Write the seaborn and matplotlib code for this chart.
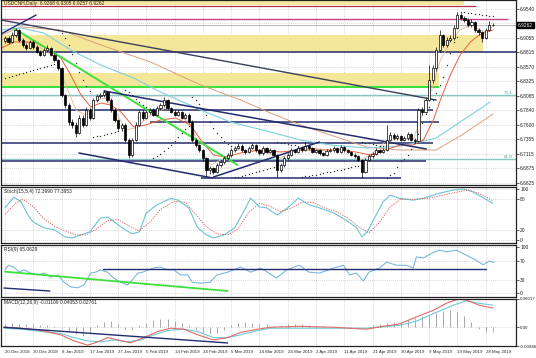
import matplotlib
matplotlib.use("Agg")
import matplotlib.pyplot as plt
import matplotlib.transforms as mtransforms
import numpy as np
import seaborn as sns

sns.set_style("white")
plt.rcParams['font.family'] = ['Liberation Sans', 'DejaVu Sans']

# date labels, one every 8 daily bars (broker shows Sunday bars)
date_labels = ['20 Dec 2018', '30 Dec 2018', '8 Jan 2019', '17 Jan 2019', '27 Jan 2019',
               '5 Feb 2019', '14 Feb 2019', '24 Feb 2019', '5 Mar 2019', '14 Mar 2019',
               '24 Mar 2019', '2 Apr 2019', '11 Apr 2019', '21 Apr 2019', '30 Apr 2019',
               '9 May 2019', '19 May 2019', '28 May 2019']

# USDCNH daily candles (open of each bar = previous close)
first_open = 6.9000
closes = [6.9049, 6.8982, 6.9099, 6.9183, 6.9016, 6.8932, 6.8882, 6.8982, 6.8899, 6.8815,
          6.8765, 6.8848, 6.8882, 6.8765, 6.8681, 6.8547, 6.8096, 6.7929, 6.7645, 6.7595,
          6.7461, 6.7711, 6.7595, 6.7845, 6.7711, 6.8012, 6.8079, 6.8096, 6.8146, 6.8012,
          6.7845, 6.7678, 6.7544, 6.7595, 6.7344, 6.7093, 6.7344, 6.7595, 6.7812, 6.7711,
          6.7812, 6.7845, 6.7762, 6.7879, 6.7929, 6.8012, 6.7879, 6.7812, 6.7762, 6.7812,
          6.7711, 6.7762, 6.7645, 6.7344, 6.7260, 6.7176, 6.7043, 6.6842, 6.6875, 6.6809,
          6.6926, 6.6976, 6.7043, 6.7093, 6.7176, 6.7210, 6.7243, 6.7176, 6.7143, 6.7210,
          6.7260, 6.7176, 6.7126, 6.7210, 6.7143, 6.7176, 6.7093, 6.6842, 6.6926, 6.7043,
          6.7093, 6.7176, 6.7143, 6.7210, 6.7176, 6.7243, 6.7210, 6.7143, 6.7176, 6.7126,
          6.7093, 6.7160, 6.7176, 6.7210, 6.7143, 6.7227, 6.7176, 6.7143, 6.7093, 6.7076,
          6.7009, 6.6809, 6.7009, 6.7076, 6.7110, 6.7176, 6.7143, 6.7176, 6.7344, 6.7427,
          6.7377, 6.7411, 6.7344, 6.7377, 6.7444, 6.7344, 6.7327, 6.7845, 6.7812, 6.8012,
          6.8347, 6.8547, 6.8848, 6.9099, 6.8932, 6.9016, 6.9049, 6.9216, 6.9434, 6.9383,
          6.9350, 6.9266, 6.9317, 6.9183, 6.9149, 6.9049, 6.9183, 6.9268, 6.9262]
highs = [6.9090, 6.9080, 6.9150, 6.9216, 6.9200, 6.9050, 6.8960, 6.9010, 6.9010, 6.8930,
         6.8850, 6.8880, 6.8930, 6.8900, 6.8790, 6.8700, 6.8560, 6.8120, 6.7960, 6.7700,
         6.7640, 6.7760, 6.7760, 6.7900, 6.7880, 6.8050, 6.8110, 6.8130, 6.8180, 6.8170,
         6.8040, 6.7870, 6.7700, 6.7630, 6.7620, 6.7370, 6.7380, 6.7640, 6.7850, 6.7840,
         6.7850, 6.7880, 6.7870, 6.7910, 6.7960, 6.8063, 6.8030, 6.7900, 6.7840, 6.7840,
         6.7830, 6.7790, 6.7790, 6.7670, 6.7370, 6.7280, 6.7200, 6.7060, 6.6910, 6.6900,
         6.6960, 6.7010, 6.7080, 6.7130, 6.7210, 6.7250, 6.7290, 6.7270, 6.7200, 6.7240,
         6.7300, 6.7280, 6.7200, 6.7240, 6.7230, 6.7210, 6.7200, 6.7110, 6.6960, 6.7070,
         6.7120, 6.7210, 6.7200, 6.7240, 6.7240, 6.7310, 6.7270, 6.7230, 6.7200, 6.7200,
         6.7150, 6.7190, 6.7210, 6.7240, 6.7230, 6.7260, 6.7250, 6.7200, 6.7160, 6.7120,
         6.7100, 6.7030, 6.7040, 6.7110, 6.7140, 6.7210, 6.7200, 6.7210, 6.7595, 6.7470,
         6.7460, 6.7450, 6.7430, 6.7410, 6.7477, 6.7460, 6.7370, 6.7880, 6.7900, 6.8063,
         6.8600, 6.8600, 6.8900, 6.9183, 6.9120, 6.9060, 6.9100, 6.9260, 6.9484, 6.9470,
         6.9420, 6.9380, 6.9360, 6.9340, 6.9220, 6.9170, 6.9220, 6.9330, 6.9305]
lows = [6.8960, 6.8950, 6.8960, 6.9070, 6.8990, 6.8900, 6.8840, 6.8860, 6.8870, 6.8790,
        6.8740, 6.8740, 6.8820, 6.8740, 6.8650, 6.8520, 6.8060, 6.7880, 6.7600, 6.7540,
        6.7394, 6.7440, 6.7560, 6.7570, 6.7680, 6.7690, 6.7980, 6.8040, 6.8060, 6.7980,
        6.7810, 6.7650, 6.7510, 6.7500, 6.7310, 6.7043, 6.7060, 6.7320, 6.7570, 6.7680,
        6.7690, 6.7780, 6.7740, 6.7740, 6.7850, 6.7900, 6.7850, 6.7790, 6.7740, 6.7740,
        6.7690, 6.7690, 6.7620, 6.7310, 6.7230, 6.7140, 6.7000, 6.6742, 6.6780, 6.6770,
        6.6790, 6.6900, 6.6950, 6.7010, 6.7060, 6.7150, 6.7190, 6.7150, 6.7110, 6.7120,
        6.7190, 6.7150, 6.7100, 6.7100, 6.7120, 6.7120, 6.7070, 6.6725, 6.6800, 6.6900,
        6.7010, 6.7070, 6.7120, 6.7120, 6.7150, 6.7160, 6.7180, 6.7120, 6.7120, 6.7100,
        6.7070, 6.7070, 6.7140, 6.7150, 6.7120, 6.7120, 6.7150, 6.7120, 6.7070, 6.7050,
        6.6990, 6.6708, 6.6790, 6.6990, 6.7050, 6.7090, 6.7120, 6.7120, 6.7160, 6.7320,
        6.7350, 6.7350, 6.7320, 6.7320, 6.7350, 6.7320, 6.7290, 6.7310, 6.7760, 6.7790,
        6.7990, 6.8300, 6.8500, 6.8820, 6.8900, 6.8900, 6.8990, 6.9020, 6.9200, 6.9350,
        6.9310, 6.9240, 6.9240, 6.9150, 6.9100, 6.8982, 6.9030, 6.9160, 6.9257]

# moving averages, read at points along each line (bar, price)
ma_red_bar = [-1, 2.5, 8.2, 13, 15.8, 18.6, 21.5, 24.3, 27.1, 30, 32.8, 36.4, 39.8, 44, 48.3,
              52.5, 55.4, 59, 62.4, 66.7, 72.3, 78, 83.6, 89.3, 94.9, 99.2, 103.4, 107.6, 111.9,
              115.5, 118.4, 121.2, 123.2, 126, 128.8, 131.7, 134.2, 136.2, 138.1]
ma_red_val = [6.8881, 6.8982, 6.8982, 6.8848, 6.8714, 6.8430, 6.8096, 6.7895, 6.7962, 6.7928,
              6.7811, 6.7561, 6.7594, 6.7678, 6.7711, 6.7594, 6.7343, 6.7092, 6.7059, 6.7126,
              6.7176, 6.7143, 6.7176, 6.7176, 6.7176, 6.7143, 6.7092, 6.7176, 6.7260, 6.7260,
              6.7343, 6.7678, 6.8012, 6.8430, 6.8764, 6.8982, 6.9099, 6.9149, 6.9182]
ma_fast_bar = [-1, 2.5, 5.9, 10.2, 14.4, 17.2, 20.1, 22.9, 25.7, 28.5, 31.4, 34.2, 37, 41.2,
               45.5, 49.7, 52.5, 55.4, 58.2, 61, 65.3, 69.5, 73.7, 78, 82.2, 86.4, 92.1, 96.3,
               100.6, 103.4, 107.6, 111.9, 115.5, 118.4, 121.2, 123.2, 126, 128.8, 131.7,
               134.5, 136.4, 138.1]
ma_fast_val = [6.9015, 6.9099, 6.8982, 6.8881, 6.8714, 6.8263, 6.7845, 6.7761, 6.8012, 6.8045,
               6.7811, 6.7510, 6.7544, 6.7761, 6.7878, 6.7761, 6.7594, 6.7176, 6.6925, 6.7009,
               6.7176, 6.7176, 6.7143, 6.7042, 6.7176, 6.7209, 6.7176, 6.7209, 6.7009, 6.7092,
               6.7310, 6.7377, 6.7343, 6.7811, 6.8263, 6.8681, 6.8982, 6.9182, 6.9266, 6.9182,
               6.9149, 6.9249]
ma_blue_bar = [-1, 4.5, 11, 18.6, 27.1, 36.4, 44, 55.4, 63.8, 75.1, 83.6, 92.1, 102.3, 111.9,
               117.5, 122, 128.8, 137.3]
ma_blue_val = [6.9182, 6.9216, 6.9132, 6.8848, 6.8597, 6.8380, 6.8146, 6.7845, 6.7644, 6.7477,
               6.7343, 6.7260, 6.7209, 6.7243, 6.7310, 6.7377, 6.7644, 6.7979]
ma_tan_bar = [-1, 4.5, 15.8, 27.1, 41.2, 55.4, 66.7, 75.1, 83.6, 92.1, 102.3, 111.9, 122,
              128.8, 138.1]
ma_tan_val = [6.9099, 6.9233, 6.9182, 6.8932, 6.8647, 6.8263, 6.8012, 6.7795, 6.7594, 6.7427,
              6.7226, 6.7176, 6.7176, 6.7410, 6.7778]

# parabolic SAR dots (bar, price)
sar_bar = list(range(0, 139))
sar_val = [6.8380, 6.8397, 6.8413, 6.8430, 6.8447, 6.8463, 6.8480, 6.8497, 6.8514, 6.8530,
           6.8547, 6.8564, 6.8580, 6.8597, 6.8614, 6.9182, 6.9132, 6.9049, 6.8932, 6.8781,
           6.8631, 6.8480, 6.8346, 6.8246, 6.8163, 6.7393, 6.7402, 6.7410, 6.7427, 6.7444,
           6.7460, 6.7477, 6.7494, 6.7510, 6.8179, 6.8146, 6.8096, 6.8029, 6.7979, 6.7928,
           6.7895, 6.7862, 6.7042, 6.7076, 6.7109, 6.7159, 6.7209, 6.7260, 6.7326, 6.7393,
           6.7460, 6.7527, 6.7577, 6.8062, 6.8012, 6.7945, 6.7861, 6.7761, 6.7644, 6.7544,
           6.7460, 6.7393, 6.7326, 6.7276, 6.7250, 6.6725, 6.6733, 6.6741, 6.6758, 6.6775,
           6.6791, 6.6808, 6.6825, 6.6842, 6.6858, 6.6875, 6.6892, 6.7310, 6.7300, 6.7290,
           6.7280, 6.7268, 6.7255, 6.7242, 6.6725, 6.6735, 6.6745, 6.6755, 6.6766, 6.6777,
           6.6788, 6.6800, 6.6812, 6.6824, 6.6836, 6.6849, 6.6862, 6.6875, 6.6888, 6.6901,
           6.6914, 6.7310, 6.7298, 6.7286, 6.7274, 6.7262, 6.7250, 6.7238, 6.6708, 6.6750,
           6.6792, 6.6900, 6.6990, 6.7030, 6.7100, 6.7200, 6.7300, 6.7440, 6.7620, 6.7780,
           6.7895, 6.8010, 6.8129, 6.8260, 6.8397, 6.8600, 6.8800, 6.8980, 6.9065, 6.9484,
           6.9478, 6.9470, 6.9462, 6.9454, 6.9445, 6.9436, 6.9427, 6.9418, 6.9409]

# Stochastic (15,5,4)
stoch_bar = [0, 2.5, 4.5, 6.5, 8, 11, 14, 17, 19, 21.5, 24, 27, 29, 31, 34, 36, 38, 40, 43, 47,
             49, 52, 54.5, 57, 59, 62, 65, 67.5, 69.5, 72, 74, 77, 80, 83, 86, 89, 93, 96.5,
             99.5, 101, 102.5, 105, 107, 109, 111.5, 115.5, 118.5, 123, 127, 130, 132.5, 135, 138]
stoch_main = [63, 84, 75, 49, 35, 24, 20, 6, 4, 10, 16, 43, 45, 35, 20, 12, 16, 53, 69, 82,
              78, 63, 24, 10, 4, 10, 24, 55, 82, 65, 63, 49, 63, 82, 69, 63, 53, 39,
              24, 6, 16, 49, 75, 88, 82, 78, 82, 92, 98, 100, 94, 84, 72]
signal_bar = [0, 3, 5, 8, 11, 14, 17, 20, 23, 26, 29, 32, 35, 38, 41, 44, 48, 51, 54, 57, 60,
              63, 66, 69, 72, 75, 78, 81, 84, 87, 90, 94, 97, 100, 103, 106, 109, 112, 116,
              120, 124, 128, 131, 134, 138]
stoch_signal = [50, 72, 80, 65, 42, 27, 18, 10, 10, 22, 38, 40, 28, 18, 35, 60, 76, 74, 50, 26,
                12, 10, 22, 55, 72, 66, 56, 62, 74, 74, 64, 55, 43, 26, 14, 35, 65, 80, 80,
                82, 88, 94, 98, 92, 77]

# RSI (9)
rsi_bar = [0, 1, 2.5, 4, 5.4, 7.3, 9.3, 11, 13, 15, 16.7, 18.6, 20.6, 22.3, 24.3, 25.7, 27, 29,
           30.8, 32.8, 34.7, 36, 37.6, 39, 42, 44, 46, 47.7, 49.7, 51.7, 53, 55.4, 58, 60, 63,
           64.7, 66.7, 69.5, 72.3, 74.3, 76.8, 79.7, 83.3, 86, 89, 93, 95.8, 97.5, 99.4, 101.4,
           103, 106, 108, 110.7, 113.6, 115.5, 116.4, 118.4, 121, 123, 124.9, 127.7, 130.5,
           133.3, 135.3, 137, 138.4]
rsi_val = [51, 61, 57, 46, 51, 44, 40, 44, 35, 40, 24, 14, 12, 18, 44, 46, 51, 46, 33, 24, 18,
           29, 44, 46, 55, 57, 51, 51, 40, 40, 24, 22, 24, 40, 46, 51, 57, 46, 55, 46, 33, 51,
           61, 46, 44, 55, 61, 40, 44, 27, 46, 55, 68, 61, 61, 55, 79, 77, 88, 94, 90, 94, 83,
           72, 62, 70, 67]

# MACD (12,26,9): two lines and histogram
macd_bar = [-0.3, 4.5, 10.2, 15.8, 19.5, 23.4, 26.3, 29.1, 31.9, 35.6, 39.3, 43.2, 46.9, 50.6,
            54.5, 59, 63, 66.7, 71.5, 75.1, 83.3, 92.9, 102.3, 107, 111.6, 116.4, 121.2, 124.9,
            128.2, 130.5, 134.2, 138.1]
macd_main = [0.0, -0.002, -0.007, -0.016, -0.029, -0.038, -0.031, -0.022, -0.027, -0.033,
             -0.022, -0.009, -0.002, -0.004, -0.016, -0.027, -0.022, -0.011, -0.004, 0.0,
             0.002, 0.0, -0.004, 0.002, 0.007, 0.022, 0.036, 0.051, 0.060, 0.058, 0.047, 0.041]
macd_sig_bar = [-0.3, 4.5, 10.2, 15.8, 19.5, 23.4, 27.1, 30.8, 34.7, 38.4, 42.1, 46.0, 50.6, 54.5,
                59, 63, 66.7, 71.5, 75.1, 102.3, 111.6, 116.4, 121.2, 126.8, 130.5, 134.2, 138.1]
macd_signal = [-0.002, -0.004, -0.009, -0.013, -0.022, -0.029, -0.031, -0.027, -0.031, -0.027,
               -0.016, -0.007, -0.004, -0.009, -0.022, -0.022, -0.016, -0.007, -0.002, -0.002,
               0.004, 0.013, 0.029, 0.047, 0.056, 0.051, 0.047]
hist_bar = list(range(0, 139, 2))
hist_val = [0.008, 0.009, 0.008, 0.007, 0.006, 0.005, 0.004, 0.003, -0.002, -0.008,
            -0.014, -0.018, -0.012, 0.004, 0.011, 0.013, 0.006, -0.004, -0.006, 0.004,
            0.010, 0.015, 0.018, 0.017, 0.014, 0.010, 0.004, -0.006, -0.013, -0.015,
            -0.012, -0.005, 0.004, 0.009, 0.011, 0.010, 0.008, 0.006, 0.003, 0.005,
            0.006, 0.007, 0.006, 0.004, 0.003, 0.002, 0.001, 0.001, -0.001, -0.002,
            -0.003, 0.000, 0.004, 0.008, 0.010, 0.011, 0.012, 0.015, 0.019, 0.023,
            0.027, 0.031, 0.034, 0.036, 0.032, 0.024, 0.012, -0.004, -0.009, -0.010]

# horizontal levels drawn on the price chart
zone_a = (6.8815, 6.9099)
zone_b = (6.8230, 6.8464)
top_band = (6.9600, 6.9700)
level_main = 6.8815
fib_764 = 6.8096
fib_618 = 6.7026
levels_navy = [6.7845, 6.7645, 6.7293, 6.6993, 6.6708]
level_magenta = 6.9367
level_crimson = 6.9584
bid = 6.9262

# ---------------------------------------------------------------
W, H = 536, 358
XL = (-1.13, 144.6)
NAVY = '#232c6e'
GRID = '#b4b4b4'
FS = 3.5

fig = plt.figure(figsize=(W / 100, H / 100), dpi=100)
fig.patch.set_facecolor('white')


def panel(y0, y1):
    return fig.add_axes([1 / W, 1 - y1 / H, 515 / W, (y1 - y0) / H])


ax = panel(0, 185)
ax_st = panel(187, 243)
ax_rsi = panel(245, 297)
ax_macd = panel(299, 346)

xt = np.arange(len(date_labels)) * 8
for a in (ax, ax_st, ax_rsi, ax_macd):
    a.set_xlim(*XL)
    a.set_xticks(xt)
    a.grid(True, color=GRID, ls=(0, (1, 2)), lw=0.5, zorder=0)
    a.set_axisbelow(True)
    a.yaxis.tick_right()
    a.tick_params(axis='y', labelsize=FS, length=2, pad=1, width=0.5, colors='#222222')
    a.tick_params(axis='x', labelsize=3.2, length=2, pad=1, width=0.5)
    for s in a.spines.values():
        s.set_color('#222222')
        s.set_linewidth(0.9)
    if a is not ax_macd:
        a.set_xticklabels([])
ax_macd.set_xticklabels(date_labels)
for lbl in ax_macd.get_xticklabels():
    lbl.set_ha('left')

# ---- price panel ----
ax.set_ylim(6.6591, 6.9684)
main_ticks = [6.9540, 6.9295, 6.9055, 6.8815, 6.8570, 6.8325, 6.8085, 6.7840, 6.7600,
              6.7355, 6.7115, 6.6875, 6.6625]
ax.set_yticks(main_ticks)
ax.set_yticklabels(['' if t == 6.9295 else f'{t:.4f}' for t in main_ticks])

yellow = '#f4e79a'
ax.fill_between([XL[0], 130.0], *top_band, color=yellow, lw=0, zorder=0.6)
ax.fill_between([XL[0], 135.3], *zone_a, color=yellow, lw=0, zorder=0.6)
ax.fill_between([XL[0], 122.9], *zone_b, color=yellow, lw=0, zorder=0.6)

ax.hlines(level_crimson, XL[0], 133.3, color='#b0304a', lw=0.9, zorder=1)
ax.hlines(level_magenta, XL[0], 142.4, color='#c8408a', lw=1.0, zorder=1)
ax.hlines(bid, XL[0], XL[1], color='#b8b8b8', lw=0.7, zorder=1)
ax.hlines(fib_764, XL[0], XL[1], color='#8cc4c4', lw=1.0, zorder=1)
ax.hlines(fib_618, XL[0], XL[1], color='#8cc4c4', lw=1.0, zorder=1)
ax.hlines(level_main, XL[0], XL[1], color=NAVY, lw=1.1, zorder=1.2)
ax.hlines(zone_b[0], XL[0], 122.9, color='#3ee03e', lw=1.5, zorder=1.2)
navy_spans = [(XL[0], 121.2), (41.0, 122.9), (XL[0], 121.2), (XL[0], 119.2), (55.4, 112.1)]
for lv, (x0, x1) in zip(levels_navy, navy_spans):
    ax.hlines(lv, x0, x1, color=NAVY, lw=1.1, zorder=1.2)
ax.text(143.6, fib_764, '76.4', color='#5aa0a0', fontsize=3.2, ha='right', va='bottom')
ax.text(143.6, fib_618, '61.8', color='#5aa0a0', fontsize=3.2, ha='right', va='bottom')

# trendlines
ax.plot([XL[0], 122.0], [6.9350, 6.8012], color='#3a3f5a', lw=1.0, zorder=2.5)
ax.plot([XL[0], 8.8], [6.9116, 6.9433], color=NAVY, lw=1.0, zorder=2.5)
ax.plot([2.8, 65.8], [6.9199, 6.6925], color='#3ee03e', lw=1.4, zorder=2.5)
ax.plot([28.0, 119.2], [6.8163, 6.7193], color=NAVY, lw=1.1, zorder=2.5)
ax.plot([20.9, 58.8], [6.7126, 6.6708], color=NAVY, lw=1.1, zorder=2.5)
ax.plot([59.0, 89.0], [6.6725, 6.7310], color=NAVY, lw=1.1, zorder=2.5)

# moving averages
sns.lineplot(x=ma_tan_bar, y=ma_tan_val, ax=ax, color='#dca07c', lw=0.7, estimator=None, zorder=2)
sns.lineplot(x=ma_blue_bar, y=ma_blue_val, ax=ax, color='#7fd0e2', lw=0.8, estimator=None, zorder=2)
sns.lineplot(x=ma_fast_bar, y=ma_fast_val, ax=ax, color='#e2b8a0', lw=0.6, estimator=None, zorder=2)
sns.lineplot(x=ma_red_bar, y=ma_red_val, ax=ax, color='#e4603c', lw=0.7, estimator=None, zorder=2)

# candles
c = np.array(closes)
o = np.r_[first_open, c[:-1]]
hi = np.maximum(np.array(highs), np.maximum(o, c))
lo = np.minimum(np.array(lows), np.minimum(o, c))
idx = np.arange(len(c))
up = c >= o
ax.vlines(idx, lo, hi, color='black', lw=0.5, zorder=3)
body = np.maximum(np.abs(c - o), 0.0005)
ax.bar(idx[up], body[up], bottom=o[up], width=0.62, color='white', edgecolor='black',
       lw=0.5, zorder=4)
ax.bar(idx[~up], body[~up], bottom=c[~up], width=0.62, color='black', edgecolor='black',
       lw=0.5, zorder=4)

sns.scatterplot(x=sar_bar, y=sar_val, ax=ax, s=1.0, color='#303030', linewidth=0, zorder=5)

ax.text(0.006, 0.995, 'USDCNH,Daily  6.9268 6.9305 6.9257 6.9262', transform=ax.transAxes,
        fontsize=FS, color='#3a2020', ha='left', va='top')
tr = mtransforms.blended_transform_factory(ax.transAxes, ax.transData)
ax.text(1.004, bid, '6.9262', transform=tr, fontsize=FS, color='white', ha='left', va='center',
        bbox=dict(boxstyle='square,pad=0.15', fc='black', ec='black'), clip_on=False)

# ---- stochastic ----
ax_st.set_ylim(-5.9, 103.9)
ax_st.set_yticks([0, 20, 80, 100])
sns.lineplot(x=stoch_bar, y=stoch_main, ax=ax_st, color='#6cc4d4', lw=0.8, estimator=None)
sns.lineplot(x=signal_bar, y=stoch_signal, ax=ax_st, color='#d9534f', lw=0.6, ls=(0, (1.5, 1.5)),
             estimator=None)
ax_st.text(0.006, 0.97, 'Stoch(15,5,4) 72.3990 77.3953', transform=ax_st.transAxes, fontsize=FS,
           color='#222222', ha='left', va='top')

# ---- RSI ----
ax_rsi.set_ylim(-8, 105)
ax_rsi.set_yticks([0, 30, 70, 100])
sns.lineplot(x=rsi_bar, y=rsi_val, ax=ax_rsi, color='#7ab8dc', lw=0.8, estimator=None)
ax_rsi.plot([0, 63], [47, 5], color='#3ee03e', lw=1.3)
ax_rsi.plot([-0.3, 12.7], [11.5, 5], color=NAVY, lw=1.0)
ax_rsi.plot([27.7, 136.2], [52.8, 52.8], color=NAVY, lw=1.0)
ax_rsi.text(0.006, 0.97, 'RSI(9) 65.0629', transform=ax_rsi.transAxes, fontsize=FS,
            color='#222222', ha='left', va='top')

# ---- MACD ----
ax_macd.set_ylim(-0.03986, 0.06017)
ax_macd.set_yticks([-0.03986, 0.0, 0.06017])
ax_macd.set_yticklabels(['-0.03986', '0.00', '0.06017'])
ax_macd.tick_params(axis='y', labelsize=3.2)
ax_macd.vlines(hist_bar, 0, hist_val, colors='#9a9a9a', lw=0.6, zorder=1)
sns.lineplot(x=macd_sig_bar, y=macd_signal, ax=ax_macd, color='#6cccd6', lw=0.8, estimator=None)
sns.lineplot(x=macd_bar, y=macd_main, ax=ax_macd, color='#e06a6a', lw=0.8, estimator=None)
ax_macd.plot([-0.3, 63], [0.0, -0.0334], color=NAVY, lw=1.0)
ax_macd.text(0.006, 0.97, 'MACD(12,26,9) -0.01109 0.04053 0.02761', transform=ax_macd.transAxes,
             fontsize=FS, color='#222222', ha='left', va='top')

for a in (ax, ax_st, ax_rsi, ax_macd):
    a.set_xlabel('')
    a.set_ylabel('')
    if a.get_legend() is not None:
        a.get_legend().remove()

fig.savefig('out.png', dpi=100)
